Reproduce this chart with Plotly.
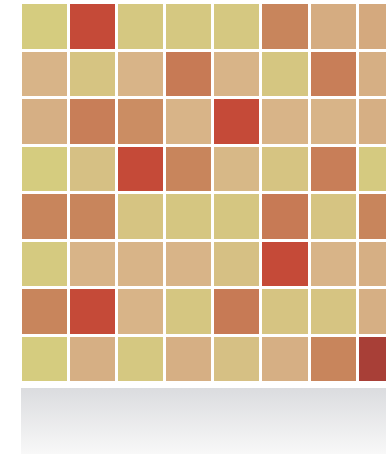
import plotly.graph_objects as go

# 8x8 tile intensities, top row first (0 = yellow-green, 1 = dark red)
cols = [0, 1, 2, 3, 4, 5, 6, 7]
rows = [0, 1, 2, 3, 4, 5, 6, 7]
z = [
    [0.05, 0.92, 0.10, 0.10, 0.10, 0.65, 0.40, 0.42],
    [0.35, 0.15, 0.35, 0.70, 0.35, 0.12, 0.68, 0.38],
    [0.38, 0.68, 0.60, 0.35, 0.92, 0.35, 0.35, 0.38],
    [0.05, 0.20, 0.92, 0.65, 0.30, 0.15, 0.68, 0.08],
    [0.65, 0.65, 0.15, 0.12, 0.12, 0.70, 0.15, 0.65],
    [0.08, 0.35, 0.35, 0.35, 0.20, 0.92, 0.35, 0.38],
    [0.65, 0.92, 0.35, 0.12, 0.70, 0.15, 0.15, 0.38],
    [0.05, 0.38, 0.10, 0.38, 0.20, 0.38, 0.65, 1.00],
]

tile_colors = [
    [0.0, "#d4d07e"],
    [0.35, "#d8b488"],
    [0.65, "#c8855c"],
    [0.92, "#c54a38"],
    [1.0, "#a83f37"],
]

fig = go.Figure()

fig.add_trace(go.Heatmap(
    x=cols,
    y=rows,
    z=z,
    colorscale=tile_colors,
    zmin=0,
    zmax=1,
    xgap=3,
    ygap=3,
    showscale=False,
    hoverinfo="skip",
))

# reflection panel below the mosaic
fig.add_trace(go.Scatter(
    x=[0, 1, 1, 0, 0],
    y=[0, 0, 1, 1, 0],
    xaxis="x2",
    yaxis="y2",
    mode="lines",
    line=dict(width=0),
    fill="toself",
    fillgradient=dict(type="vertical",
                      colorscale=[[0, "#f8f8f8"], [1, "#dbdcdf"]]),
    showlegend=False,
    hoverinfo="skip",
))

fig.update_layout(
    width=386,
    height=454,
    margin=dict(l=21, r=0, t=0, b=0),
    paper_bgcolor="white",
    plot_bgcolor="white",
    xaxis=dict(range=[-0.5, 7.09], visible=False, fixedrange=True),
    yaxis=dict(range=[7.5, -0.5], visible=False, domain=[0.1564, 0.9934]),
    xaxis2=dict(range=[0, 1], visible=False, anchor="y2"),
    yaxis2=dict(range=[0, 1], visible=False, domain=[0, 0.1454], anchor="x2"),
    showlegend=False,
)

# drop the default 8px body margin so the figure sits flush in the window
fig.write_html("out.html",
               config={"displayModeBar": False},
               post_script="document.body.style.margin='0';")
